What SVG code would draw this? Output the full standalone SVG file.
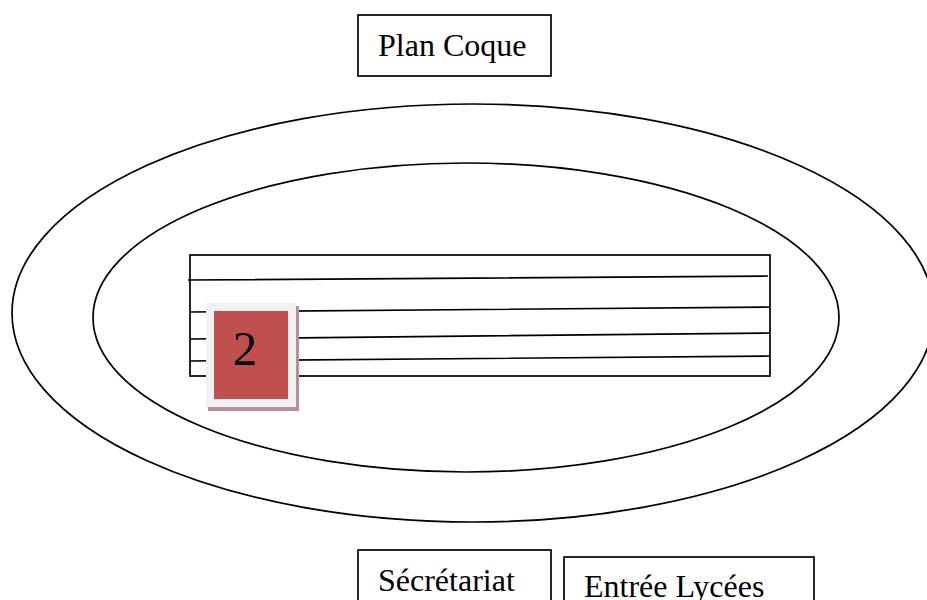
<svg xmlns="http://www.w3.org/2000/svg" width="927" height="600" viewBox="0 0 927 600">
<style>
.l{fill:none;stroke:#000;stroke-width:1.7}
.b{fill:#fff;stroke:#000;stroke-width:1.7}
.t{font-family:"Liberation Serif",serif;font-size:32px;fill:#000}
</style>
<rect width="927" height="600" fill="#fff"/>
<g id="connectors">
<ellipse class="l" cx="473" cy="313" rx="461" ry="209"/>
<ellipse class="l" cx="466" cy="317.500" rx="373" ry="154.500"/>
<rect class="l" x="190" y="255" width="580" height="121"/>
<path class="l" d="M188 280L768 276M190 312L770 307M190 339L770 333M190 361L770 356"/>
</g>
<g id="plan"><rect class="b" x="358" y="15" width="193" height="61"/><text class="t" x="378" y="56">Plan Coque</text></g>
<g id="sec"><rect class="b" x="358" y="550" width="193" height="60"/><text class="t" x="378" y="591">Sécrétariat</text></g>
<g id="entree"><rect class="b" x="564" y="557" width="250" height="60"/><text class="t" x="584" y="597">Entrée Lycées</text></g>
<g id="n2">
<rect x="208" y="306" width="91" height="105" fill="#b89292"/>
<rect x="206" y="303" width="90" height="104" fill="#f1f1f1"/>
<rect x="214" y="311" width="74" height="88" fill="#c0504d"/>
<text x="245" y="365" font-family="Liberation Serif,serif" font-size="49" text-anchor="middle">2</text>
</g>
</svg>
